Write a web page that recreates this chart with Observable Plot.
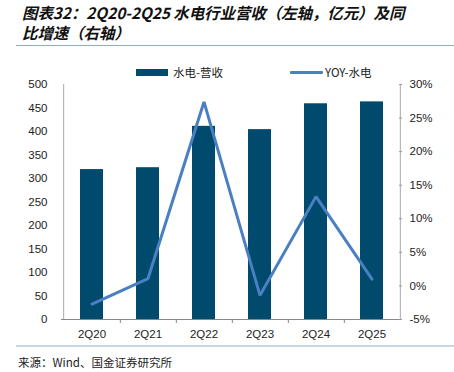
<!DOCTYPE html>
<html><head><meta charset="utf-8">
<script src="https://cdn.jsdelivr.net/npm/d3@7"></script>
<script src="https://cdn.jsdelivr.net/npm/@observablehq/plot@0.6"></script>
<style>
body{margin:0;background:#fff;}
#wrap{position:relative;width:454px;height:372px;overflow:hidden;font-family:"Liberation Sans",Arial,sans-serif;}
.title{position:absolute;left:22px;font-family:"Noto Sans CJK SC";font-style:italic;font-weight:bold;font-size:15.5px;line-height:18px;color:#111;letter-spacing:-0.1px;white-space:nowrap;}
#sep1{position:absolute;left:16px;top:45px;width:438px;height:0;border-top:1.5px solid #94aec4;}
#sep2{position:absolute;left:16px;top:345px;width:438px;height:0;border-top:2px solid #c9d7e2;}
#source{position:absolute;left:18px;top:354px;font-family:"Noto Sans CJK SC";font-size:11.5px;color:#222;}
#legend{position:absolute;left:136px;top:63px;font-family:"Noto Sans CJK SC";font-size:11.5px;color:#222;display:flex;align-items:center;height:18px;}
#legend .sw{display:inline-block;}
#chart{position:absolute;left:0;top:74px;}
</style></head>
<body><div id="wrap">
<div class="title" style="top:3px;">图表32：2Q20-2Q25 水电行业营收（左轴，亿元）及同</div>
<div class="title" style="top:23px;">比增速（右轴）</div>
<div id="sep1"></div>
<div id="legend">
<span class="sw" style="width:32px;height:7px;background:#004a6e;"></span><span style="margin-left:5px;">水电-营收</span>
<span class="sw" style="width:33px;height:3px;background:#4a80c2;margin-left:67px;border-radius:1px;"></span><span style="margin-left:2px;">YOY-水电</span>
</div>
<div id="chart"></div>
<div id="sep2"></div>
<div id="source">来源：Wind、国金证券研究所</div>
</div>
<script>
const categories = ["2Q20","2Q21","2Q22","2Q23","2Q24","2Q25"];
const revenue = [319, 323, 411, 404, 459, 463];
const yoy = [-2.7, 1.1, 27.4, -1.4, 13.3, 1.0];
const leftTicks = [0,50,100,150,200,250,300,350,400,450,500];
const rightTicks = [-5,0,5,10,15,20,25,30];

const leftDomain = [0, 500];
const rightDomain = [-5, 30];
const toLeft = v => leftDomain[0] + (v - rightDomain[0]) / (rightDomain[1] - rightDomain[0]) * (leftDomain[1] - leftDomain[0]);
const fromLeft = v => rightDomain[0] + (v - leftDomain[0]) / (leftDomain[1] - leftDomain[0]) * (rightDomain[1] - rightDomain[0]);

const rows = categories.map((c, i) => ({cat: c, rev: revenue[i], yoy: yoy[i], yoyL: toLeft(yoy[i])}));

const W = 454, mL = 61, mR = 53;
const step = (W - mL - mR) / categories.length;
const first = categories[0], last = categories[categories.length - 1];

const chart = Plot.plot({
  width: W,
  height: 271,
  marginLeft: mL,
  marginRight: mR,
  marginTop: 10,
  marginBottom: 26,
  style: {fontFamily: "'Liberation Sans', Arial, sans-serif", fontSize: "11px", color: "#222", background: "transparent"},
  x: {domain: categories, paddingInner: 0.59, paddingOuter: 0.295, axis: null, label: null},
  y: {domain: leftDomain, axis: null, label: null},
  marks: [
    Plot.barY(rows, {x: "cat", y: "rev", fill: "#004a6e"}),
    Plot.line(rows, {x: "cat", y: "yoyL", stroke: "#4a80c2", strokeWidth: 3, strokeLinejoin: "miter"}),
    Plot.ruleY([0], {stroke: "#888", strokeWidth: 1}),
    Plot.ruleX([first], {x: d => d, dx: -step/2, y1: leftDomain[0], y2: leftDomain[1], stroke: "#aaa"}),
    Plot.ruleX([last], {x: d => d, dx: step/2, y1: leftDomain[0], y2: leftDomain[1], stroke: "#aaa"}),
    Plot.axisY(leftTicks, {anchor: "left", label: null, tickSize: 0, tickPadding: 14, fontSize: 11.5, color: "#222"}),
    Plot.axisY(rightTicks.map(toLeft), {anchor: "right", label: null, tickSize: -3, tickPadding: 11, tickFormat: v => Math.round(fromLeft(v)) + "%", fontSize: 11.5, stroke: "#999", color: "#222"}),
    Plot.axisX(categories, {anchor: "bottom", label: null, tickSize: 0, tickPadding: 10, fontSize: 11.5, color: "#222"}),
    Plot.axisX(categories.slice(0, -1), {anchor: "bottom", label: null, tickSize: 4, dx: step/2, tickFormat: () => "", stroke: "#888"})
  ]
});
document.getElementById("chart").appendChild(chart);
</script>
</body></html>
